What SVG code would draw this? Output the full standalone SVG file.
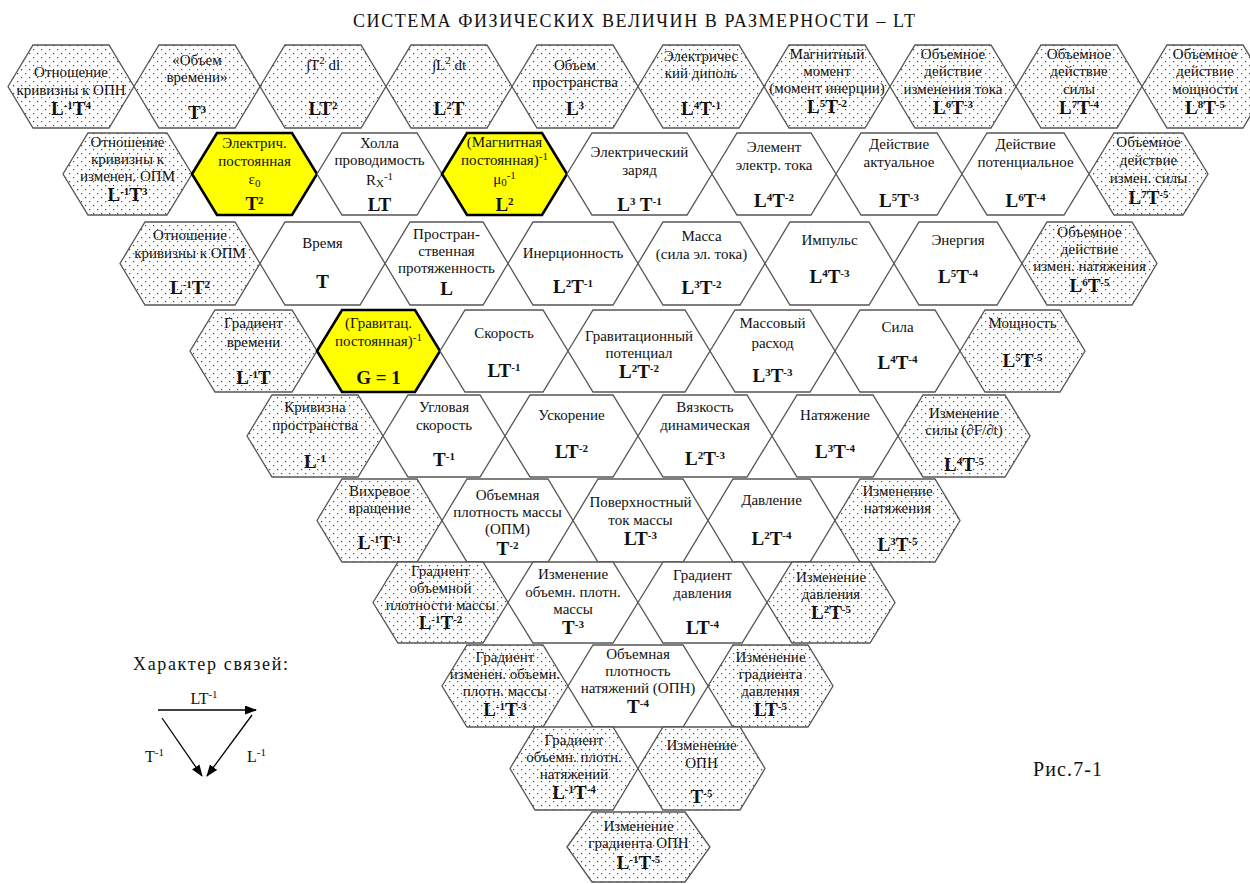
<svg xmlns="http://www.w3.org/2000/svg" width="1250" height="884" viewBox="0 0 1250 884" font-family="'Liberation Serif', 'Times New Roman', serif">
<defs>
  <pattern id="dots" width="8" height="8" patternUnits="userSpaceOnUse">
    <rect width="8" height="8" fill="#fff"/>
    <rect x="1" y="1" width="1.2" height="1.2" fill="#444"/>
    <rect x="5" y="5" width="1.2" height="1.2" fill="#444"/>
  </pattern>
  <marker id="ah" markerUnits="userSpaceOnUse" markerWidth="12" markerHeight="9" refX="11" refY="4.5" orient="auto">
    <path d="M0,0 L12,4.5 L0,9 z" fill="#000"/>
  </marker>
  <style>
    .h{fill:#fff;stroke:#555;stroke-width:1.3}
    .d{fill:url(#dots);stroke:#555;stroke-width:1.3}
    .y{fill:#ff0;stroke:#000;stroke-width:2.6}
    text{font-family:"Liberation Serif","Times New Roman",serif;fill:#111}
    .t{font-size:15px;text-anchor:middle}
    .f{font-size:19px;font-weight:bold;text-anchor:middle}
    .u{font-size:11px}
    .lg{font-size:16px}
  </style>
</defs>
<rect width="1250" height="884" fill="#fff"/>
<text x="634" y="27" font-size="18" text-anchor="middle" textLength="562" lengthAdjust="spacing">СИСТЕМА ФИЗИЧЕСКИХ ВЕЛИЧИН В РАЗМЕРНОСТИ – LT</text>

<!-- row 1 -->
<g id="r1n1"><polygon class="d" points="8,86.5 33,45 109,45 134,86.5 109,128 33,128"/>
<text class="t" x="71" y="77">Отношение</text><text class="t" x="71" y="95">кривизны к ОПН</text>
<text class="f" x="71" y="115">L<tspan class="u" dy="-6">-1</tspan><tspan dy="6">T</tspan><tspan class="u" dy="-6">4</tspan></text></g>
<g id="r1n2"><polygon class="d" points="134,86.5 159,45 235,45 260,86.5 235,128 159,128"/>
<text class="t" x="197" y="65">«Объем</text><text class="t" x="197" y="82">времени»</text>
<text class="f" x="197" y="119">T<tspan class="u" dy="-6">3</tspan></text></g>
<g id="r1n3"><polygon class="d" points="260,86.5 285,45 361,45 386,86.5 361,128 285,128"/>
<text class="t" x="323" y="70" font-size="16">∫T<tspan class="u" dy="-6">2</tspan><tspan dy="6"> dl</tspan></text>
<text class="f" x="323" y="115">LT<tspan class="u" dy="-6">2</tspan></text></g>
<g id="r1n4"><polygon class="d" points="386,86.5 411,45 487,45 512,86.5 487,128 411,128"/>
<text class="t" x="449" y="70" font-size="16">∫L<tspan class="u" dy="-6">2</tspan><tspan dy="6"> dt</tspan></text>
<text class="f" x="449" y="115">L<tspan class="u" dy="-6">2</tspan><tspan dy="6">T</tspan></text></g>
<g id="r1n5"><polygon class="d" points="512,86.5 537,45 613,45 638,86.5 613,128 537,128"/>
<text class="t" x="575" y="70">Объем</text><text class="t" x="575" y="87">пространства</text>
<text class="f" x="575" y="115">L<tspan class="u" dy="-6">3</tspan></text></g>
<g id="r1n6"><polygon class="d" points="638,86.5 663,45 739,45 764,86.5 739,128 663,128"/>
<text class="t" x="701" y="61">Электричес</text><text class="t" x="701" y="78">кий диполь</text>
<text class="f" x="701" y="115">L<tspan class="u" dy="-6">4</tspan><tspan dy="6">T</tspan><tspan class="u" dy="-6">-1</tspan></text></g>
<g id="r1n7"><polygon class="d" points="764,86.5 789,45 865,45 890,86.5 865,128 789,128"/>
<text class="t" x="827" y="59">Магнитный</text><text class="t" x="827" y="76">момент</text><text class="t" x="827" y="93">(момент инерции)</text>
<text class="f" x="827" y="113">L<tspan class="u" dy="-6">5</tspan><tspan dy="6">T</tspan><tspan class="u" dy="-6">-2</tspan></text></g>
<g id="r1n8"><polygon class="d" points="890,86.5 915,45 991,45 1016,86.5 991,128 915,128"/>
<text class="t" x="953" y="59">Объемное</text><text class="t" x="953" y="76">действие</text><text class="t" x="953" y="94">изменения тока</text>
<text class="f" x="953" y="114">L<tspan class="u" dy="-6">6</tspan><tspan dy="6">T</tspan><tspan class="u" dy="-6">-3</tspan></text></g>
<g id="r1n9"><polygon class="d" points="1016,86.5 1041,45 1117,45 1142,86.5 1117,128 1041,128"/>
<text class="t" x="1079" y="59">Объемное</text><text class="t" x="1079" y="76">действие</text><text class="t" x="1079" y="94">силы</text>
<text class="f" x="1079" y="114">L<tspan class="u" dy="-6">7</tspan><tspan dy="6">T</tspan><tspan class="u" dy="-6">-4</tspan></text></g>
<g id="r1n10"><polygon class="d" points="1142,86.5 1167,45 1243,45 1268,86.5 1243,128 1167,128"/>
<text class="t" x="1205" y="59">Объемное</text><text class="t" x="1205" y="76">действие</text><text class="t" x="1205" y="94">мощности</text>
<text class="f" x="1205" y="114">L<tspan class="u" dy="-6">8</tspan><tspan dy="6">T</tspan><tspan class="u" dy="-6">-5</tspan></text></g>

<!-- row 2 -->
<g id="r2n1"><polygon class="d" points="63,174 88,133 167,133 192,174 167,215 88,215"/>
<text class="t" x="127.5" y="147">Отношение</text><text class="t" x="127.5" y="164">кривизны к</text><text class="t" x="127.5" y="181">изменен. ОПМ</text>
<text class="f" x="127.5" y="201">L<tspan class="u" dy="-6">-1</tspan><tspan dy="6">T</tspan><tspan class="u" dy="-6">3</tspan></text></g>
<g id="r2n2"><polygon class="y" points="192,174 217,133 292,133 317,174 292,215 217,215"/>
<text class="t" x="254.5" y="148">Электрич.</text><text class="t" x="254.5" y="166">постоянная</text>
<text class="t" x="254.5" y="184">ε<tspan class="u" dy="3">0</tspan></text>
<text class="f" x="254.5" y="210">T<tspan class="u" dy="-6">2</tspan></text></g>
<g id="r2n3"><polygon class="h" points="317,174 342,133 417,133 442,174 417,215 342,215"/>
<text class="t" x="379.5" y="148">Холла</text><text class="t" x="379.5" y="165">проводимость</text>
<text class="t" x="379.5" y="185">R<tspan class="u" dy="2">X</tspan><tspan class="u" dy="-7">-1</tspan></text>
<text class="f" x="379.5" y="211">LT</text></g>
<g id="r2n4"><polygon class="y" points="442,174 467,133 542,133 567,174 542,215 467,215"/>
<text class="t" x="504.5" y="147">(Магнитная</text>
<text class="t" x="504.5" y="165">постоянная)<tspan class="u" dy="-5">-1</tspan></text>
<text class="t" x="504.5" y="184">μ<tspan class="u" dy="2">0</tspan><tspan class="u" dy="-7">-1</tspan></text>
<text class="f" x="504.5" y="211">L<tspan class="u" dy="-6">2</tspan></text></g>
<g id="r2n5"><polygon class="h" points="567,174 592,133 687,133 712,174 687,215 592,215"/>
<text class="t" x="639.5" y="157">Электрический</text><text class="t" x="639.5" y="175">заряд</text>
<text class="f" x="639.5" y="211">L<tspan class="u" dy="-6">3</tspan><tspan dy="6"> T</tspan><tspan class="u" dy="-6">-1</tspan></text></g>
<g id="r2n6"><polygon class="h" points="712,174 737,133 811,133 836,174 811,215 737,215"/>
<text class="t" x="774" y="152">Элемент</text><text class="t" x="774" y="170">электр. тока</text>
<text class="f" x="774" y="207">L<tspan class="u" dy="-6">4</tspan><tspan dy="6">T</tspan><tspan class="u" dy="-6">-2</tspan></text></g>
<g id="r2n7"><polygon class="h" points="836,174 861,133 937,133 962,174 937,215 861,215"/>
<text class="t" x="899" y="149">Действие</text><text class="t" x="899" y="167">актуальное</text>
<text class="f" x="899" y="207">L<tspan class="u" dy="-6">5</tspan><tspan dy="6">T</tspan><tspan class="u" dy="-6">-3</tspan></text></g>
<g id="r2n8"><polygon class="h" points="962,174 987,133 1064,133 1089,174 1064,215 987,215"/>
<text class="t" x="1025.5" y="149">Действие</text><text class="t" x="1025.5" y="167">потенциальное</text>
<text class="f" x="1025.5" y="207">L<tspan class="u" dy="-6">6</tspan><tspan dy="6">T</tspan><tspan class="u" dy="-6">-4</tspan></text></g>
<g id="r2n9"><polygon class="d" points="1089,174 1114,133 1183,133 1208,174 1183,215 1114,215"/>
<text class="t" x="1148.5" y="147">Объемное</text><text class="t" x="1148.5" y="165">действие</text><text class="t" x="1148.5" y="183">измен. силы</text>
<text class="f" x="1148.5" y="204">L<tspan class="u" dy="-6">7</tspan><tspan dy="6">T</tspan><tspan class="u" dy="-6">-5</tspan></text></g>

<!-- row 3 -->
<g id="r3n1"><polygon class="d" points="120,263.5 145,222 235,222 260,263.5 235,305 145,305"/>
<text class="t" x="190" y="240">Отношение</text><text class="t" x="190" y="258">кривизны к ОПМ</text>
<text class="f" x="190" y="294">L<tspan class="u" dy="-6">-1</tspan><tspan dy="6">T</tspan><tspan class="u" dy="-6">2</tspan></text></g>
<g id="r3n2"><polygon class="h" points="260,263.5 285,222 360,222 385,263.5 360,305 285,305"/>
<text class="t" x="322.5" y="248">Время</text>
<text class="f" x="322.5" y="288">T</text></g>
<g id="r3n3"><polygon class="h" points="385,263.5 410,222 483,222 508,263.5 483,305 410,305"/>
<text class="t" x="446.5" y="239">Простран-</text><text class="t" x="446.5" y="256">ственная</text><text class="t" x="446.5" y="273">протяженность</text>
<text class="f" x="446.5" y="295">L</text></g>
<g id="r3n4"><polygon class="h" points="508,263.5 533,222 613,222 638,263.5 613,305 533,305"/>
<text class="t" x="573" y="258">Инерционность</text>
<text class="f" x="573" y="293">L<tspan class="u" dy="-6">2</tspan><tspan dy="6">T</tspan><tspan class="u" dy="-6">-1</tspan></text></g>
<g id="r3n5"><polygon class="h" points="638,263.5 663,222 740,222 765,263.5 740,305 663,305"/>
<text class="t" x="701.5" y="241">Масса</text><text class="t" x="701.5" y="259">(сила эл. тока)</text>
<text class="f" x="701.5" y="294">L<tspan class="u" dy="-6">3</tspan><tspan dy="6">T</tspan><tspan class="u" dy="-6">-2</tspan></text></g>
<g id="r3n6"><polygon class="h" points="765,263.5 790,222 869,222 894,263.5 869,305 790,305"/>
<text class="t" x="829.5" y="245">Импульс</text>
<text class="f" x="829.5" y="283">L<tspan class="u" dy="-6">4</tspan><tspan dy="6">T</tspan><tspan class="u" dy="-6">-3</tspan></text></g>
<g id="r3n7"><polygon class="h" points="894,263.5 919,222 997,222 1022,263.5 997,305 919,305"/>
<text class="t" x="958" y="245">Энергия</text>
<text class="f" x="958" y="283">L<tspan class="u" dy="-6">5</tspan><tspan dy="6">T</tspan><tspan class="u" dy="-6">-4</tspan></text></g>
<g id="r3n8"><polygon class="d" points="1022,263.5 1047,222 1132,222 1157,263.5 1132,305 1047,305"/>
<text class="t" x="1089.5" y="237">Объемное</text><text class="t" x="1089.5" y="254">действие</text><text class="t" x="1089.5" y="271">измен. натяжения</text>
<text class="f" x="1089.5" y="292">L<tspan class="u" dy="-6">6</tspan><tspan dy="6">T</tspan><tspan class="u" dy="-6">-5</tspan></text></g>

<!-- row 4 -->
<g id="r4n1"><polygon class="d" points="190,351 215,310 292,310 317,351 292,392 215,392"/>
<text class="t" x="253.5" y="328">Градиент</text><text class="t" x="253.5" y="347">времени</text>
<text class="f" x="253.5" y="384">L<tspan class="u" dy="-6">-1</tspan><tspan dy="6">T</tspan></text></g>
<g id="r4n2"><polygon class="y" points="317,351 342,310 415,310 440,351 415,392 342,392"/>
<text class="t" x="378.5" y="328">(Гравитац.</text>
<text class="t" x="378.5" y="346">постоянная)<tspan class="u" dy="-5">-1</tspan></text>
<text class="f" x="378.5" y="384">G = 1</text></g>
<g id="r4n3"><polygon class="h" points="440,351 465,310 543,310 568,351 543,392 465,392"/>
<text class="t" x="504" y="338">Скорость</text>
<text class="f" x="504" y="377">LT<tspan class="u" dy="-6">-1</tspan></text></g>
<g id="r4n4"><polygon class="h" points="568,351 593,310 685,310 710,351 685,392 593,392"/>
<text class="t" x="639" y="341">Гравитационный</text><text class="t" x="639" y="358">потенциал</text>
<text class="f" x="639" y="378">L<tspan class="u" dy="-6">2</tspan><tspan dy="6">T</tspan><tspan class="u" dy="-6">-2</tspan></text></g>
<g id="r4n5"><polygon class="h" points="710,351 735,310 810,310 835,351 810,392 735,392"/>
<text class="t" x="772.5" y="328">Массовый</text><text class="t" x="772.5" y="348">расход</text>
<text class="f" x="772.5" y="382">L<tspan class="u" dy="-6">3</tspan><tspan dy="6">T</tspan><tspan class="u" dy="-6">-3</tspan></text></g>
<g id="r4n6"><polygon class="h" points="835,351 860,310 935,310 960,351 935,392 860,392"/>
<text class="t" x="897.5" y="332">Сила</text>
<text class="f" x="897.5" y="369">L<tspan class="u" dy="-6">4</tspan><tspan dy="6">T</tspan><tspan class="u" dy="-6">-4</tspan></text></g>
<g id="r4n7"><polygon class="d" points="960,351 985,310 1060,310 1085,351 1060,392 985,392"/>
<text class="t" x="1022.5" y="328">Мощность</text>
<text class="f" x="1022.5" y="367">L<tspan class="u" dy="-6">5</tspan><tspan dy="6">T</tspan><tspan class="u" dy="-6">-5</tspan></text></g>

<!-- row 5 -->
<g id="r5n1"><polygon class="d" points="247,436 272,395 358,395 383,436 358,477 272,477"/>
<text class="t" x="315" y="412">Кривизна</text><text class="t" x="315" y="430">пространства</text>
<text class="f" x="315" y="468">L<tspan class="u" dy="-6">-1</tspan></text></g>
<g id="r5n2"><polygon class="h" points="383,436 408,395 480,395 505,436 480,477 408,477"/>
<text class="t" x="444" y="412">Угловая</text><text class="t" x="444" y="430">скорость</text>
<text class="f" x="444" y="466">T<tspan class="u" dy="-6">-1</tspan></text></g>
<g id="r5n3"><polygon class="h" points="505,436 530,395 613,395 638,436 613,477 530,477"/>
<text class="t" x="571.5" y="420">Ускорение</text>
<text class="f" x="571.5" y="458">LT<tspan class="u" dy="-6">-2</tspan></text></g>
<g id="r5n4"><polygon class="h" points="638,436 663,395 747,395 772,436 747,477 663,477"/>
<text class="t" x="705" y="412">Вязкость</text><text class="t" x="705" y="430">динамическая</text>
<text class="f" x="705" y="465">L<tspan class="u" dy="-6">2</tspan><tspan dy="6">T</tspan><tspan class="u" dy="-6">-3</tspan></text></g>
<g id="r5n5"><polygon class="h" points="772,436 797,395 873,395 898,436 873,477 797,477"/>
<text class="t" x="835" y="420">Натяжение</text>
<text class="f" x="835" y="458">L<tspan class="u" dy="-6">3</tspan><tspan dy="6">T</tspan><tspan class="u" dy="-6">-4</tspan></text></g>
<g id="r5n6"><polygon class="d" points="898,436 923,395 1005,395 1030,436 1005,477 923,477"/>
<text class="t" x="964" y="418">Изменение</text><text class="t" x="964" y="435">силы (∂F/∂t)</text>
<text class="f" x="964" y="471">L<tspan class="u" dy="-6">4</tspan><tspan dy="6">T</tspan><tspan class="u" dy="-6">-5</tspan></text></g>

<!-- row 6 -->
<g id="r6n1"><polygon class="d" points="317,520.5 342,479 417,479 442,520.5 417,562 342,562"/>
<text class="t" x="379.5" y="496">Вихревое</text><text class="t" x="379.5" y="513">вращение</text>
<text class="f" x="379.5" y="549">L<tspan class="u" dy="-6">-1</tspan><tspan dy="6">T</tspan><tspan class="u" dy="-6">-1</tspan></text></g>
<g id="r6n2"><polygon class="h" points="442,520.5 467,479 548,479 573,520.5 548,562 467,562"/>
<text class="t" x="507.5" y="500">Объемная</text><text class="t" x="507.5" y="517">плотность массы</text><text class="t" x="507.5" y="534">(ОПМ)</text>
<text class="f" x="507.5" y="555">T<tspan class="u" dy="-6">-2</tspan></text></g>
<g id="r6n3"><polygon class="h" points="573,520.5 598,479 683,479 708,520.5 683,562 598,562"/>
<text class="t" x="640.5" y="507">Поверхностный</text><text class="t" x="640.5" y="525">ток массы</text>
<text class="f" x="640.5" y="545">LT<tspan class="u" dy="-6">-3</tspan></text></g>
<g id="r6n4"><polygon class="h" points="708,520.5 733,479 810,479 835,520.5 810,562 733,562"/>
<text class="t" x="771.5" y="505">Давление</text>
<text class="f" x="771.5" y="545">L<tspan class="u" dy="-6">2</tspan><tspan dy="6">T</tspan><tspan class="u" dy="-6">-4</tspan></text></g>
<g id="r6n5"><polygon class="d" points="835,520.5 860,479 935,479 960,520.5 935,562 860,562"/>
<text class="t" x="897.5" y="496">Изменение</text><text class="t" x="897.5" y="513">натяжения</text>
<text class="f" x="897.5" y="551">L<tspan class="u" dy="-6">3</tspan><tspan dy="6">T</tspan><tspan class="u" dy="-6">-5</tspan></text></g>

<!-- row 7 -->
<g id="r7n1"><polygon class="d" points="373,602.5 398,562 483,562 508,602.5 483,643 398,643"/>
<text class="t" x="440.5" y="576">Градиент</text><text class="t" x="440.5" y="593">объемной</text><text class="t" x="440.5" y="610">плотности массы</text>
<text class="f" x="440.5" y="629">L<tspan class="u" dy="-6">-1</tspan><tspan dy="6">T</tspan><tspan class="u" dy="-6">-2</tspan></text></g>
<g id="r7n2"><polygon class="h" points="508,602.5 533,562 613,562 638,602.5 613,643 533,643"/>
<text class="t" x="573" y="579">Изменение</text><text class="t" x="573" y="597">объемн. плотн.</text><text class="t" x="573" y="614">массы</text>
<text class="f" x="573" y="634">T<tspan class="u" dy="-6">-3</tspan></text></g>
<g id="r7n3"><polygon class="h" points="638,602.5 663,562 742,562 767,602.5 742,643 663,643"/>
<text class="t" x="702.5" y="580">Градиент</text><text class="t" x="702.5" y="598">давления</text>
<text class="f" x="702.5" y="634">LT<tspan class="u" dy="-6">-4</tspan></text></g>
<g id="r7n4"><polygon class="d" points="767,602.5 792,562 870,562 895,602.5 870,643 792,643"/>
<text class="t" x="831" y="582">Изменение</text><text class="t" x="831" y="599">давления</text>
<text class="f" x="831" y="619">L<tspan class="u" dy="-6">2</tspan><tspan dy="6">T</tspan><tspan class="u" dy="-6">-5</tspan></text></g>

<!-- row 8 -->
<g id="r8n1"><polygon class="d" points="442,686 467,645 543,645 568,686 543,727 467,727"/>
<text class="t" x="505" y="662">Градиент</text><text class="t" x="505" y="679">изменен. объемн.</text><text class="t" x="505" y="696">плотн. массы</text>
<text class="f" x="505" y="716">L<tspan class="u" dy="-6">-1</tspan><tspan dy="6">T</tspan><tspan class="u" dy="-6">-3</tspan></text></g>
<g id="r8n2"><polygon class="h" points="568,686 593,645 683,645 708,686 683,727 593,727"/>
<text class="t" x="638" y="659">Объемная</text><text class="t" x="638" y="676">плотность</text><text class="t" x="638" y="693">натяжений (ОПН)</text>
<text class="f" x="638" y="713">T<tspan class="u" dy="-6">-4</tspan></text></g>
<g id="r8n3"><polygon class="d" points="708,686 733,645 808,645 833,686 808,727 733,727"/>
<text class="t" x="770.5" y="662">Изменение</text><text class="t" x="770.5" y="679">градиента</text><text class="t" x="770.5" y="696">давления</text>
<text class="f" x="770.5" y="716">LT<tspan class="u" dy="-6">-5</tspan></text></g>

<!-- row 9 -->
<g id="r9n1"><polygon class="d" points="510,768.5 535,727 613,727 638,768.5 613,810 535,810"/>
<text class="t" x="574" y="745">Градиент</text><text class="t" x="574" y="762">объемн. плотн.</text><text class="t" x="574" y="779">натяжений</text>
<text class="f" x="574" y="799">L<tspan class="u" dy="-6">-1</tspan><tspan dy="6">T</tspan><tspan class="u" dy="-6">-4</tspan></text></g>
<g id="r9n2"><polygon class="d" points="638,768.5 663,727 740,727 765,768.5 740,810 663,810"/>
<text class="t" x="701.5" y="750">Изменение</text><text class="t" x="701.5" y="768">ОПН</text>
<text class="f" x="701.5" y="803">T<tspan class="u" dy="-6">-5</tspan></text></g>

<!-- row 10 -->
<g id="r10n1"><polygon class="d" points="567,847 592,812 685,812 710,847 685,882 592,882"/>
<text class="t" x="638.5" y="831">Изменение</text><text class="t" x="638.5" y="848">градиента ОПН</text>
<text class="f" x="638.5" y="869">L<tspan class="u" dy="-6">-1</tspan><tspan dy="6">T</tspan><tspan class="u" dy="-6">-5</tspan></text></g>

<!-- legend -->
<g id="legend">
<text x="133" y="670" font-size="18" textLength="155" lengthAdjust="spacing">Характер связей:</text>
<text class="lg" x="204" y="704" text-anchor="middle">LT<tspan class="u" dy="-6">-1</tspan></text>
<text class="lg" x="145" y="762">T<tspan class="u" dy="-6">-1</tspan></text>
<text class="lg" x="247" y="762">L<tspan class="u" dy="-6">-1</tspan></text>
</g>
<g id="connectors" stroke="#000" stroke-width="1.3" fill="none" marker-end="url(#ah)">
<line x1="158" y1="710" x2="256" y2="710"/>
<line x1="162" y1="718" x2="202" y2="776"/>
<line x1="252" y1="715" x2="207" y2="776"/>
</g>
<text id="caption" x="1033" y="776" font-size="20" textLength="69" lengthAdjust="spacing">Рис.7-1</text>
</svg>
